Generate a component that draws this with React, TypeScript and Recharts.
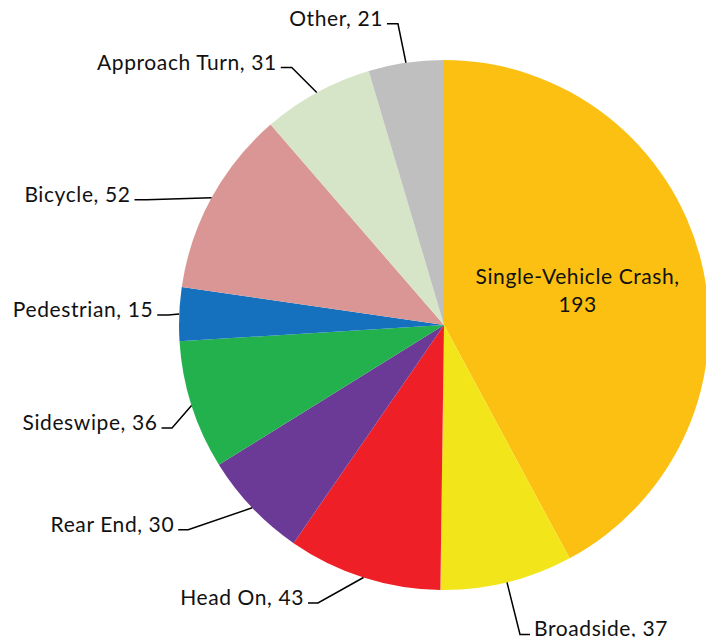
import { PieChart, Pie, Cell } from 'recharts';

const categories = ['Single-Vehicle Crash', 'Broadside', 'Head On', 'Rear End', 'Sideswipe',
                    'Pedestrian', 'Bicycle', 'Approach Turn', 'Other'];
const crashCounts = [193, 37, 43, 30, 36, 15, 52, 31, 21];
const sliceColors = ['#FBC012', '#F2E61A', '#EE1F26', '#6B3A96', '#22B14C',
                     '#1571BE', '#D99694', '#D6E5C7', '#BFBFBF'];

// leader line per slice: elbow offset from slice edge [dx, dy], then horizontal run length
const leaderLines: (number[] | null)[] = [
    null,
    [13, 52, 10],
    [-45.5, 25.5, -10],
    [-64, 22, -10],
    [-19.5, 22.5, -10.5],
    [-11, 1, -11],
    [-65, 2, -12],
    [-25, -25, -11],
    [-8, -39, -11],
];

const data = categories.map((name, i) => ({ name, value: crashCounts[i] }));

const RADIAN = Math.PI / 180;
const font = { fontFamily: 'Lato, "Open Sans", sans-serif', fontSize: 21, letterSpacing: 0.6, fill: '#111' };

const renderLabel = (props: any) => {
    const { cx, cy, midAngle, outerRadius, index, name, value } = props;
    const cos = Math.cos(-midAngle * RADIAN);
    const sin = Math.sin(-midAngle * RADIAN);
    const layout = leaderLines[index];
    if (!layout) {
        const r = outerRadius * 0.52;
        const x = cx + r * cos;
        const y = cy + r * sin;
        return (
            <text x={x} y={y} textAnchor="middle" style={font}>
                <tspan x={x} dy={-7}>{name},</tspan>
                <tspan x={x} dy={28}>{value}</tspan>
            </text>
        );
    }
    const sx = cx + outerRadius * cos;
    const sy = cy + outerRadius * sin;
    const ex = sx + layout[0];
    const ey = sy + layout[1];
    const hx = ex + layout[2];
    const right = layout[2] > 0;
    return (
        <g>
            <polyline points={`${sx},${sy} ${ex},${ey} ${hx},${ey}`} fill="none" stroke="#000" strokeWidth={1.5} />
            <text x={hx + (right ? 4 : -4)} y={ey + 2} textAnchor={right ? 'start' : 'end'} style={font}>
                {`${name}, ${value}`}
            </text>
        </g>
    );
};

export default function App() {
    return (
        <div style={{ position: 'absolute', left: 0, top: 0 }}>
            <PieChart width={706} height={637} margin={{ top: 0, right: 0, bottom: 0, left: 0 }}>
                <Pie
                    data={data}
                    dataKey="value"
                    nameKey="name"
                    cx={444}
                    cy={325}
                    outerRadius={265}
                    startAngle={90}
                    endAngle={-270}
                    stroke="none"
                    label={renderLabel}
                    labelLine={false}
                    isAnimationActive={false}
                >
                    {data.map((d, i) => (
                        <Cell key={d.name} fill={sliceColors[i]} />
                    ))}
                </Pie>
            </PieChart>
        </div>
    );
}
